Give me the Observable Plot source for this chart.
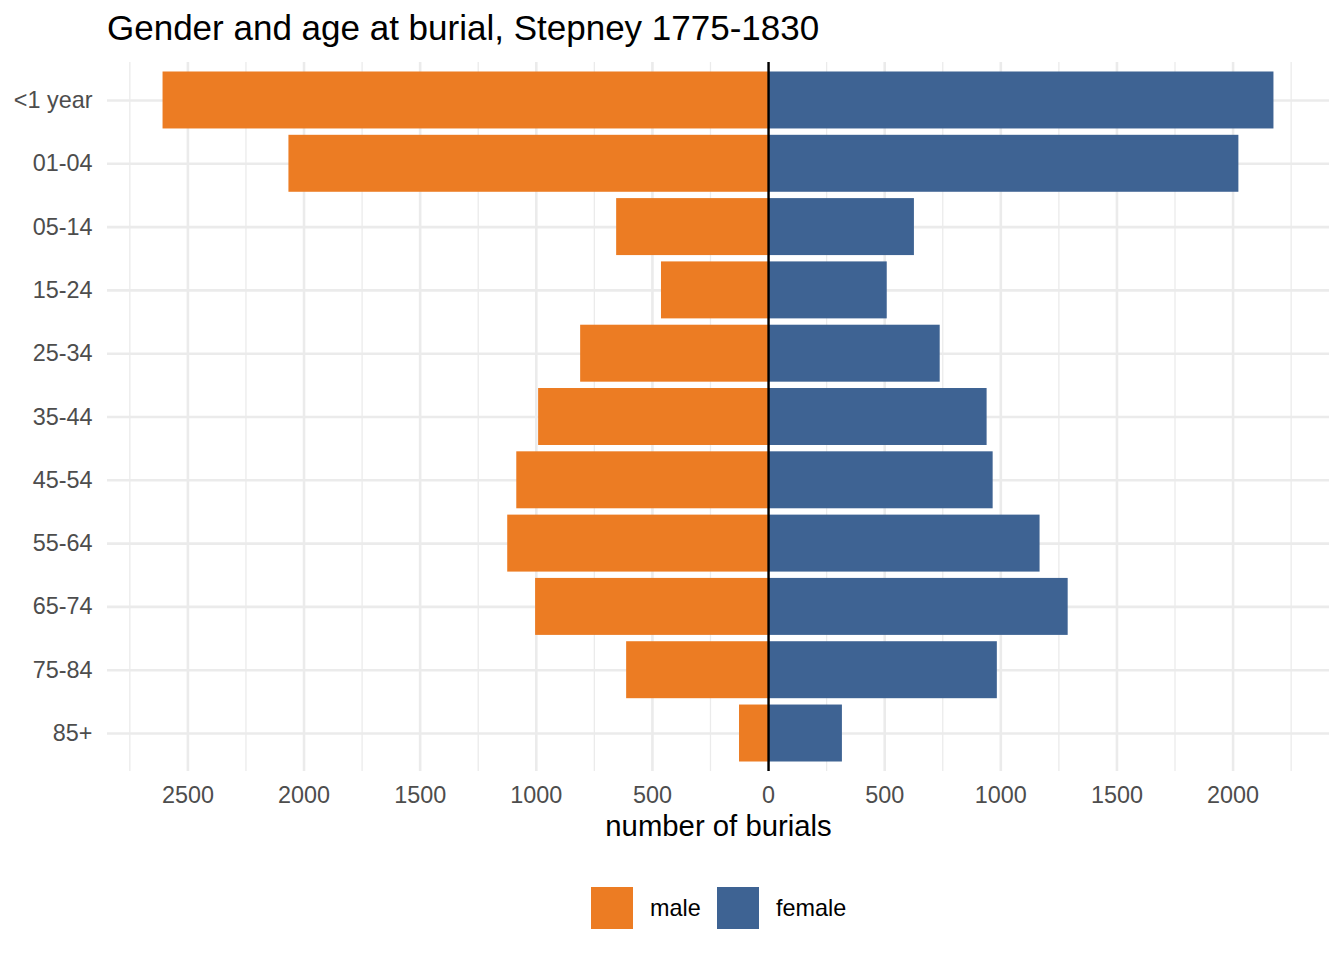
<!DOCTYPE html>
<html>
<head>
<meta charset="utf-8">
<script src="https://cdn.jsdelivr.net/npm/d3@7"></script>
<script src="https://cdn.jsdelivr.net/npm/@observablehq/plot@0.6"></script>
<style>
  html, body { margin: 0; padding: 0; background: #fff; }
  body { width: 1344px; height: 960px; overflow: hidden; font-family: "Liberation Sans", Arial, Helvetica, sans-serif; }
  #title { height: 56px; line-height: 56px; font-size: 35px; padding-left: 107px; color: #000; white-space: nowrap; }
  #chart svg { display: block; }
  #legend { height: 84px; position: relative; }
  .key { position: absolute; top: 11px; width: 42px; height: 42px; }
  .lab { position: absolute; top: 11px; height: 42px; line-height: 42px; font-size: 23.4px; color: #000; }
</style>
</head>
<body>
<div id="title">Gender and age at burial, Stepney 1775-1830</div>
<div id="chart"></div>
<div id="legend"></div>
<script>
// ---- data ----
const ages = ["<1 year","01-04","05-14","15-24","25-34","35-44","45-54","55-64","65-74","75-84","85+"];
const male = [2607, 2065, 654, 461, 809, 990, 1084, 1123, 1003, 611, 125];
const female = [2176, 2025, 628, 511, 739, 941, 967, 1169, 1290, 985, 318];
const sexes = ["male", "female"];
const colors = ["#EC7C23", "#3E6393"];
const majorTicks = [-2500, -2000, -1500, -1000, -500, 0, 500, 1000, 1500, 2000];
const minorTicks = [-2750, -2250, -1750, -1250, -750, -250, 250, 750, 1250, 1750, 2250];
const xTitle = "number of burials";

// ---- build table ----
const rows = [];
ages.forEach((a, i) => {
  rows.push({age: a, sex: "male", value: -male[i]});
  rows.push({age: a, sex: "female", value: female[i]});
});
const ext = d3.extent(rows, d => d.value);
const pad = (ext[1] - ext[0]) * 0.05;
const xDomain = [ext[0] - pad, ext[1] + pad];

const grid = "#EBEBEB";
const font = '"Liberation Sans", Arial, Helvetica, sans-serif';

const chart = Plot.plot({
  width: 1344,
  height: 820,
  marginLeft: 107,
  marginRight: 15,
  marginTop: 6,
  marginBottom: 105,
  style: {fontFamily: font, fontSize: "23.4px", background: "#fff", color: "#4D4D4D"},
  x: {domain: xDomain, nice: false},
  y: {type: "band", domain: ages, paddingInner: 0.1, paddingOuter: 0.15, align: 0.5, round: false},
  color: {domain: sexes, range: colors},
  marks: [
    Plot.ruleX(minorTicks, {x: d => d, stroke: grid, strokeWidth: 1.3}),
    Plot.ruleX(majorTicks, {x: d => d, stroke: grid, strokeWidth: 2.6}),
    Plot.gridY({stroke: grid, strokeOpacity: 1, strokeWidth: 2.6}),
    Plot.barX(rows, {x: "value", y: "age", fill: "sex"}),
    Plot.ruleX([0], {stroke: "#000", strokeWidth: 2.4}),
    Plot.axisX({ticks: majorTicks, tickFormat: d => String(Math.abs(d)), tickSize: 0, tickPadding: 15, fontSize: 23.4, color: "#4D4D4D", label: null}),
    Plot.axisY({tickSize: 0, tickPadding: 15, fontSize: 23.4, color: "#4D4D4D", label: null}),
    Plot.text([xTitle], {text: d => d, frameAnchor: "bottom", lineAnchor: "bottom", dy: 64.7, fontSize: 29.3, fill: "#000"})
  ]
});
document.getElementById("chart").appendChild(chart);

// ---- legend ----
const legend = document.getElementById("legend");
const keyX = [591, 717];
const labX = [650, 776];
sexes.forEach((s, i) => {
  const k = document.createElement("div");
  k.className = "key";
  k.style.left = keyX[i] + "px";
  k.style.background = colors[i];
  legend.appendChild(k);
  const l = document.createElement("div");
  l.className = "lab";
  l.style.left = labX[i] + "px";
  l.textContent = s;
  legend.appendChild(l);
});
</script>
</body>
</html>
